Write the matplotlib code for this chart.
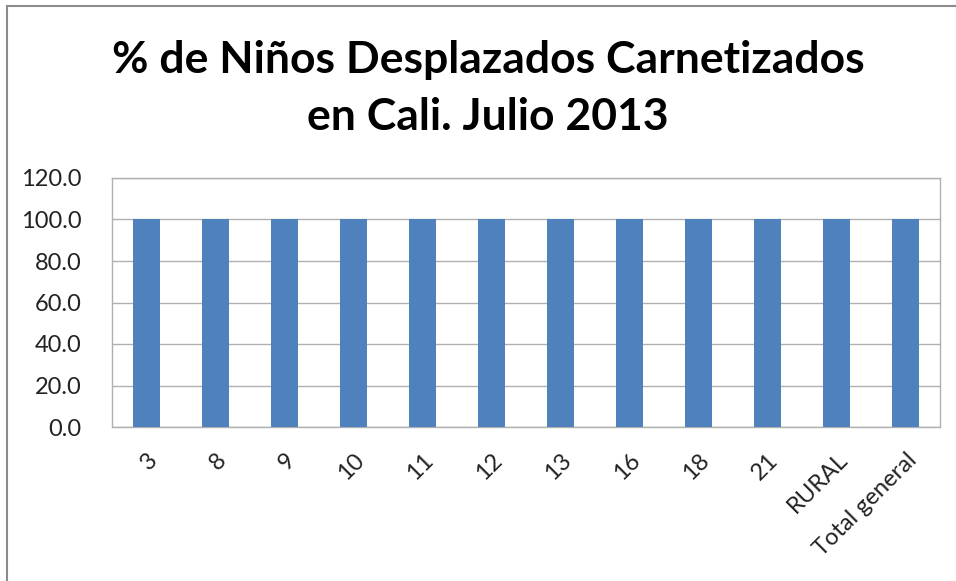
import matplotlib
matplotlib.use("Agg")
import matplotlib.pyplot as plt
from matplotlib.patches import Rectangle

categories = ["3", "8", "9", "10", "11", "12", "13", "16", "18", "21", "RURAL", "Total general"]
values = [100.0] * 12
yticks = [0, 20, 40, 60, 80, 100, 120]

plt.rcParams['font.family'] = ['Lato', 'DejaVu Sans']

W, H = 956, 581
fig = plt.figure(figsize=(W/100, H/100), dpi=100)
fig.patches.append(Rectangle((7/W, -0.1), 1.2, (1 - 6/H) + 0.1, transform=fig.transFigure,
                             fill=False, edgecolor='#8c8c8c', linewidth=1.5))

ax = fig.add_axes([112/W, 1 - 427/H, (940-112)/W, (427-178)/H])
x = range(len(categories))
ax.bar(x, values, width=0.4, color='#4f81bd', zorder=3)
ax.set_xlim(-0.5, len(categories) - 0.5)
ax.set_ylim(0, 120)
ax.set_yticks(yticks)
ax.set_yticklabels([f"{v:.1f}" for v in yticks], fontsize=17, color='#222222')
ax.set_xticks(list(x))
ax.set_xticklabels(categories, rotation=45, ha='right', rotation_mode='anchor', fontsize=17, color='#222222')
ax.tick_params(axis='both', length=0)
ax.tick_params(axis='y', pad=22)
ax.tick_params(axis='x', pad=16)
ax.grid(axis='y', color='#b0b0b0', linewidth=1, zorder=0)
for s in ax.spines.values():
    s.set_color('#b0b0b0')
    s.set_linewidth(1)

fig.text(488/W, 1 - 60/H, "% de Niños Desplazados Carnetizados", ha='center', va='center',
         fontsize=32, fontweight='bold', color='#000000')
fig.text(488/W, 1 - 117/H, "en Cali. Julio 2013", ha='center', va='center',
         fontsize=32, fontweight='bold', color='#000000')

fig.savefig("out.png", dpi=100)
